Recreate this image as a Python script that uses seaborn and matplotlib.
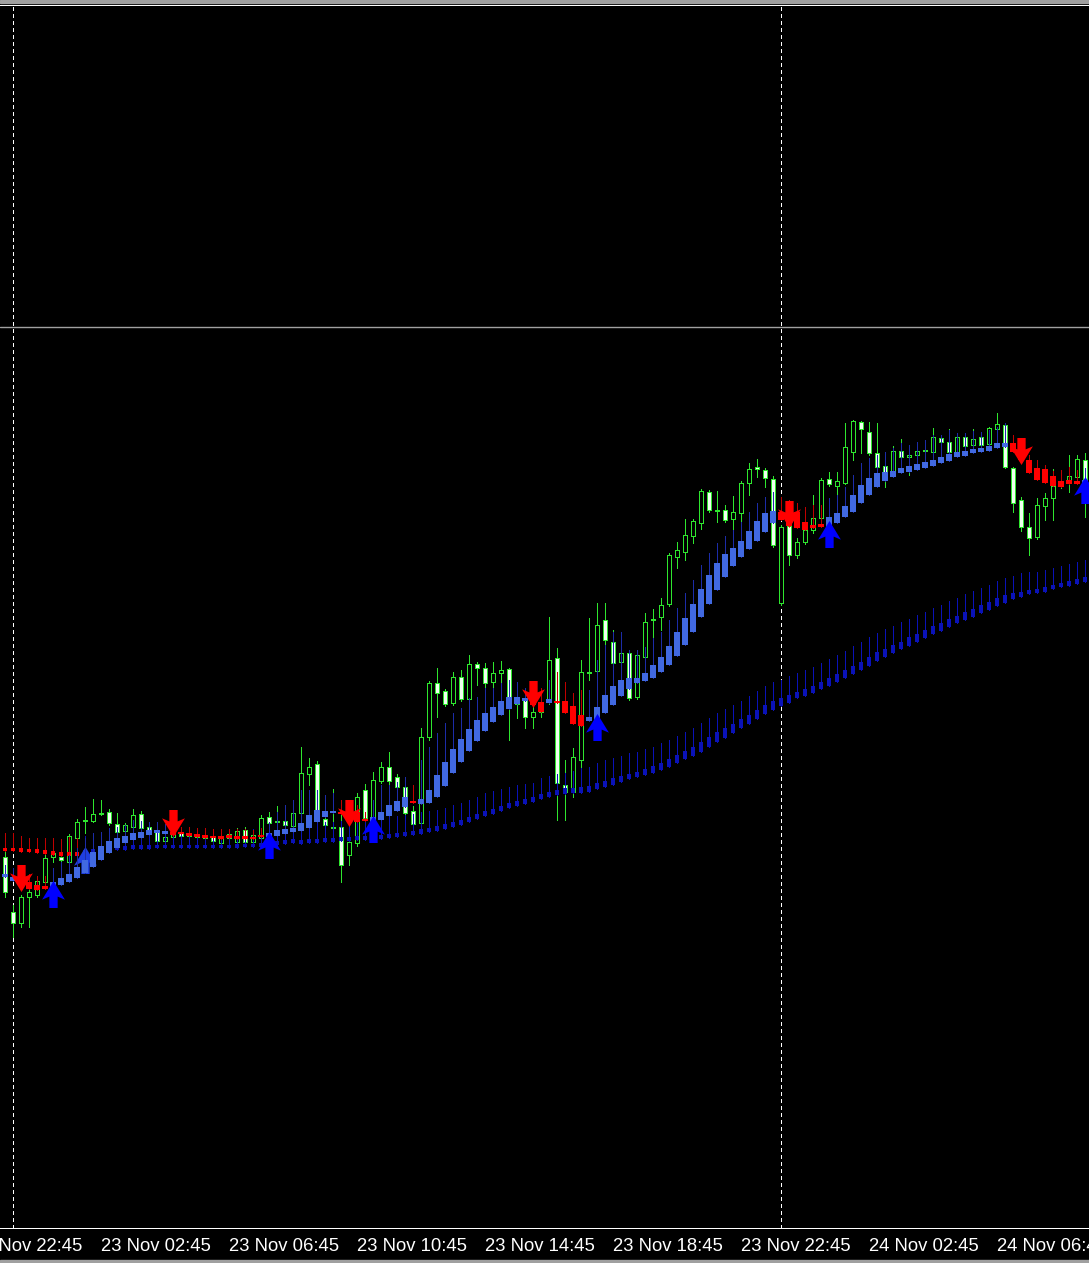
import numpy as np
import pandas as pd
import matplotlib
matplotlib.use("Agg")
import matplotlib.pyplot as plt
from matplotlib.path import Path
from matplotlib.markers import MarkerStyle
from matplotlib.patches import Rectangle
import seaborn as sns

# %%
# --- M15 candles (price in points) ---
first_bar = "2023-11-22 23:45"

open_ = [143, 88, 77, 103, 105, 118, 143, 143, 138, 162,
         179, 179, 187, 188, 176, 169, 173, 186, 173, 170,
         159, 163, 168, 167, 166, 165, 163, 157, 162, 158,
         170, 158, 162, 183, 178, 179, 174, 187, 226, 236,
         181, 172, 173, 145, 157, 210, 182, 219, 233, 223,
         213, 189, 177, 263, 317, 309, 297, 323, 301, 336,
         332, 318, 327, 331, 296, 301, 283, 288, 298, 342,
         215, 208, 240, 327, 329, 380, 358, 338, 347, 303,
         343, 380, 383, 396, 443, 448, 464, 477, 508, 489,
         490, 481, 487, 517, 533, 530, 521, 397, 474, 445,
         458, 470, 482, 521, 514, 517, 548, 578, 568, 547,
         534, 528, 549, 543, 545, 549, 548, 562, 558, 547,
         563, 555, 563, 556, 571, 575, 532, 500, 473, 463,
         494, 502, 515, 517, 523, 540]
high = [150, 95, 105, 113, 123, 145, 152, 148, 166, 181,
        193, 201, 200, 191, 187, 177, 191, 189, 178, 175,
        167, 170, 171, 170, 169, 168, 166, 165, 169, 172,
        173, 170, 185, 188, 194, 185, 190, 253, 242, 239,
        190, 211, 200, 165, 207, 216, 228, 238, 248, 226,
        218, 194, 272, 319, 332, 311, 328, 330, 345, 338,
        337, 338, 339, 332, 318, 310, 295, 312, 383, 352,
        240, 252, 340, 382, 397, 397, 370, 368, 350, 350,
        387, 391, 402, 447, 458, 481, 481, 511, 510, 509,
        495, 504, 519, 537, 541, 532, 524, 475, 490, 462,
        492, 505, 522, 528, 528, 577, 580, 579, 578, 577,
        547, 554, 561, 550, 558, 555, 572, 565, 571, 567,
        567, 571, 567, 573, 587, 577, 533, 503, 487, 502,
        507, 531, 530, 545, 545, 547]
low = [103, 63, 73, 73, 103, 115, 138, 138, 136, 160,
       167, 178, 185, 175, 166, 167, 171, 170, 165, 157,
       157, 161, 162, 162, 161, 160, 157, 155, 152, 156,
       156, 156, 160, 174, 173, 173, 172, 185, 215, 188,
       173, 170, 118, 135, 154, 180, 180, 217, 216, 205,
       180, 174, 174, 260, 283, 294, 295, 299, 299, 315,
       308, 312, 318, 260, 282, 272, 272, 283, 296, 180,
       180, 203, 230, 320, 327, 355, 334, 334, 300, 301,
       341, 363, 370, 394, 432, 440, 457, 471, 488, 478,
       478, 471, 479, 505, 523, 513, 453, 395, 435, 442,
       456, 467, 480, 514, 503, 516, 540, 547, 545, 527,
       513, 525, 540, 525, 538, 542, 545, 555, 545, 545,
       548, 547, 550, 550, 568, 532, 488, 469, 445, 461,
       480, 480, 512, 508, 521, 483]
close = [108, 77, 103, 108, 119, 142, 147, 140, 164, 178,
         180, 186, 186, 177, 168, 175, 185, 172, 168, 159,
         163, 167, 164, 164, 163, 162, 159, 162, 166, 169,
         158, 165, 182, 177, 179, 175, 187, 227, 233, 190,
         175, 173, 135, 158, 203, 182, 220, 233, 219, 213,
         187, 176, 263, 317, 307, 296, 323, 301, 336, 332,
         317, 327, 330, 300, 303, 283, 288, 297, 340, 217,
         208, 243, 328, 328, 375, 360, 337, 347, 302, 345,
         378, 381, 395, 445, 450, 465, 479, 509, 490, 490,
         480, 488, 517, 531, 531, 522, 455, 473, 445, 458,
         470, 482, 520, 516, 519, 553, 579, 571, 547, 533,
         528, 549, 543, 545, 549, 550, 563, 558, 548, 563,
         554, 561, 555, 572, 576, 533, 497, 473, 462, 495,
         502, 514, 517, 524, 541, 518]

# --- fast smoothed Heiken Ashi ---
fast_open = [123, 119, 120, 118, 115, 114, 113, 115, 118, 122,
             127, 133, 140, 147, 152, 157, 160, 162, 165, 167,
             166, 168, 168, 167, 166, 165, 164, 164, 165, 164,
             164, 163, 165, 163, 164, 166, 168, 169, 172, 178,
             183, 187, 188, 190, 188, 181, 178, 180, 184, 189,
             193, 198, 196, 197, 203, 214, 227, 238, 249, 259,
             269, 278, 285, 291, 296, 299, 300, 298, 297, 299,
             299, 294, 285, 279, 280, 287, 295, 304, 311, 317,
             319, 322, 328, 335, 344, 355, 368, 383, 396, 410,
             423, 434, 443, 451, 459, 468, 477, 488, 485, 488,
             478, 475, 476, 473, 477, 483, 488, 497, 505, 513,
             519, 523, 527, 528, 530, 532, 534, 537, 539, 543,
             544, 547, 548, 549, 552, 553, 557, 552, 540, 532,
             531, 524, 519, 520, 519, 515]
fast_close = [126, 123, 114, 111, 110, 111, 118, 122, 126, 133,
              140, 148, 154, 159, 162, 164, 167, 168, 170, 170,
              169, 165, 166, 164, 163, 162, 162, 161, 162, 161,
              161, 161, 163, 167, 170, 171, 172, 177, 185, 190,
              189, 189, 186, 182, 178, 179, 183, 188, 195, 199,
              203, 197, 201, 210, 225, 238, 251, 261, 271, 280,
              287, 293, 299, 303, 303, 302, 295, 288, 301, 297,
              287, 276, 274, 283, 293, 305, 314, 320, 322, 322,
              327, 335, 343, 354, 368, 382, 396, 411, 425, 437,
              446, 452, 459, 469, 479, 487, 489, 480, 474, 472,
              470, 472, 473, 483, 487, 494, 505, 515, 522, 527,
              528, 529, 532, 534, 536, 538, 540, 543, 546, 548,
              549, 551, 552, 554, 557, 557, 548, 540, 527, 520,
              517, 514, 513, 516, 516, 520]
fast_high = [135, 132, 128, 126, 124, 124, 132, 138, 145, 152,
             162, 167, 168, 172, 173, 175, 180, 179, 178, 178,
             176, 174, 173, 173, 172, 172, 171, 171, 171, 171,
             171, 170, 172, 178, 188, 195, 200, 210, 210, 210,
             205, 207, 200, 200, 195, 188, 200, 215, 215, 218,
             223, 215, 240, 253, 267, 277, 287, 292, 302, 303,
             312, 312, 317, 320, 318, 312, 310, 312, 320, 328,
             318, 307, 310, 310, 340, 355, 368, 368, 350, 350,
             353, 362, 368, 380, 392, 407, 420, 435, 447, 457,
             464, 470, 478, 488, 497, 503, 508, 503, 500, 497,
             493, 495, 495, 502, 505, 513, 525, 537, 542, 545,
             548, 552, 557, 555, 558, 560, 565, 565, 570, 567,
             567, 569, 568, 570, 573, 577, 565, 562, 545, 540,
             535, 529, 530, 533, 530, 532]

# --- slow smoothed Heiken Ashi ---
slow_open = [152, 152, 152, 151, 151, 150, 149, 148, 148, 148,
             146, 147, 148, 148, 150, 150, 151, 151, 151, 152,
             152, 152, 152, 152, 152, 152, 152, 152, 152, 152,
             153, 153, 153, 154, 155, 156, 157, 156, 157, 157,
             158, 158, 159, 159, 160, 160, 160, 161, 162, 163,
             164, 165, 166, 168, 169, 171, 173, 175, 178, 181,
             184, 186, 189, 192, 194, 196, 198, 201, 203, 205,
             206, 207, 207, 208, 211, 213, 215, 218, 221, 223,
             225, 227, 230, 233, 237, 241, 244, 248, 253, 258,
             262, 267, 272, 276, 281, 286, 290, 294, 297, 302,
             304, 307, 311, 314, 318, 322, 326, 330, 334, 339,
             343, 347, 351, 354, 358, 362, 366, 369, 373, 377,
             380, 383, 387, 390, 394, 397, 401, 403, 406, 407,
             408, 411, 413, 414, 416, 418]
slow_close = [149, 149, 148, 148, 147, 146, 145, 144, 144, 144,
              150, 151, 151, 152, 153, 154, 155, 155, 155, 155,
              155, 155, 155, 155, 155, 155, 155, 155, 155, 156,
              156, 156, 157, 157, 159, 160, 161, 160, 161, 161,
              162, 162, 163, 163, 164, 164, 164, 165, 166, 167,
              168, 169, 171, 172, 174, 176, 178, 180, 183, 186,
              189, 191, 194, 197, 199, 201, 203, 206, 208, 210,
              212, 212, 213, 214, 217, 219, 222, 224, 226, 228,
              231, 234, 237, 241, 245, 249, 253, 258, 263, 268,
              272, 276, 281, 285, 290, 295, 299, 302, 305, 308,
              311, 314, 318, 322, 326, 330, 334, 338, 343, 348,
              351, 355, 358, 363, 366, 370, 374, 377, 381, 384,
              388, 391, 395, 398, 402, 405, 407, 408, 410, 411,
              413, 415, 417, 419, 421, 423]
slow_high = [167, 167, 164, 162, 162, 162, 162, 161, 163, 162,
             164, 165, 166, 167, 167, 168, 170, 170, 170, 170,
             170, 170, 170, 170, 170, 170, 170, 170, 170, 170,
             171, 171, 172, 172, 174, 175, 176, 176, 177, 177,
             178, 178, 179, 179, 180, 180, 181, 182, 183, 184,
             185, 186, 188, 189, 190, 192, 195, 197, 200, 203,
             207, 209, 211, 213, 215, 216, 217, 222, 224, 226,
             227, 229, 232, 233, 237, 240, 242, 244, 247, 248,
             251, 253, 257, 260, 264, 268, 272, 277, 282, 287,
             291, 295, 299, 304, 309, 314, 318, 320, 324, 327,
             330, 333, 337, 341, 345, 349, 354, 358, 363, 367,
             371, 374, 378, 381, 385, 388, 392, 395, 399, 402,
             406, 409, 412, 415, 419, 422, 424, 427, 428, 428,
             430, 432, 434, 436, 438, 440]

# --- signals (bar index, arrow price) ---
sell_bar = [2, 21, 43, 66, 98, 127]
sell_price = [122, 177, 187, 306, 486, 549]
buy_bar = [6, 33, 46, 74, 103, 135]
buy_price = [106, 155, 171, 273, 466, 510]
slow_buy_bar = [10]
slow_buy_price = [140]

level = 673
tick_start = "2023-11-22 22:45"

# %%
# --- couleurs MT4 ---
GREEN = "#2EE62E"
BEAR_FILL = "#F0FFF0"
ROYAL = "#4169E1"
NAVY = "#1C2CA8"
SLOW_BLUE = "#0A12B8"
RED = "#FF0000"
DARK_RED = "#C00000"
PX = 0.72  # 1 px in points at dpi 100

sns.set_theme(style="dark", rc={
    "figure.facecolor": "black", "axes.facecolor": "black",
    "axes.edgecolor": "white", "xtick.color": "white",
    "axes.grid": False,
})
plt.rcParams["font.family"] = ["Liberation Sans", "DejaVu Sans"]

fig = plt.figure(figsize=(10.89, 12.63), dpi=100)
ax = fig.add_axes([0, 35 / 1263, 1, 1223 / 1263])

times = pd.date_range(first_bar, periods=len(open_), freq="15min")
x = np.arange(len(open_))

# séparateurs de jour + niveau horizontal
for k in np.where((times.hour == 0) & (times.minute == 0))[0]:
    ax.axvline(k, color="white", lw=PX, ls=(0, (3, 3)), zorder=1, antialiased=False)
ax.axhline(level, color="#A0A0A0", lw=1.0, zorder=1)

# --- bougies (traits nets comme MT4) ---
o, h, l, c = map(np.asarray, (open_, high, low, close))
bull = c >= o
ax.vlines(x, l, h, color=GREEN, lw=PX, zorder=2, antialiased=False)
ax.bar(x, np.maximum(np.abs(c - o), 0.6), bottom=np.minimum(o, c), width=0.6,
       color=np.where(bull, "black", BEAR_FILL), edgecolor=GREEN, linewidth=PX,
       zorder=2.1, antialiased=False)

# --- slow HA ---
so, sc, sh = map(np.asarray, (slow_open, slow_close, slow_high))
s_up = sc >= so
ax.vlines(x, np.minimum(so, sc), sh, colors=np.where(s_up, SLOW_BLUE, DARK_RED), lw=PX,
          zorder=2.5, antialiased=False)
ax.bar(x, np.maximum(np.abs(sc - so), 2), bottom=np.minimum(so, sc), width=0.5,
       color=np.where(s_up, SLOW_BLUE, RED), linewidth=0, zorder=2.6, antialiased=False)

# --- fast HA ---
fo, fc, fh = map(np.asarray, (fast_open, fast_close, fast_high))
f_up = fc >= fo
ax.vlines(x, np.minimum(fo, fc), fh, colors=np.where(f_up, NAVY, DARK_RED), lw=PX,
          zorder=3, antialiased=False)
ax.bar(x, np.maximum(np.abs(fc - fo), 2), bottom=np.minimum(fo, fc), width=0.7,
       color=np.where(f_up, ROYAL, RED), linewidth=0, zorder=3.1, antialiased=False)

# --- flèches ---
down_verts = [(-4, 13), (4, 13), (4, 2), (11, 5), (0, -13), (-11, 5), (-4, 2), (-4, 13)]
down_arrow = MarkerStyle(Path(down_verts, closed=True))
up_arrow = MarkerStyle(Path([(vx, -vy) for vx, vy in down_verts], closed=True))
size = (27 * PX) ** 2
sns.scatterplot(x=sell_bar, y=sell_price, marker=down_arrow, s=size, color=RED,
                linewidth=0, ax=ax, zorder=4, legend=False)
sns.scatterplot(x=buy_bar, y=buy_price, marker=up_arrow, s=size, color="#0000FF",
                linewidth=0, ax=ax, zorder=4, legend=False)
sns.scatterplot(x=slow_buy_bar, y=slow_buy_price, marker=up_arrow, s=size, color="#1F3FE0",
                linewidth=0, ax=ax, zorder=2.8, legend=False)

# --- axes ---
tick_times = pd.date_range(tick_start, periods=9, freq="4h")
tick_pos = (tick_times - times[0]) / pd.Timedelta("15min")
tick_text = [t.strftime("%d Nov %H:%M") for t in tick_times]
ax.set_xticks(tick_pos)
ax.set_xticklabels(tick_text, ha="left", color="white", fontsize=13.3)
ax.tick_params(axis="x", length=3, width=PX, color="white", pad=4, direction="out")
ax.set_xlim(-0.625, 135.5)   # après set_xticks (sinon la vue s'élargit)
ax.set_ylim(-228, 995)
# le premier libellé tombe hors de la vue : on l'écrit à la main, coupé par le bord
ax.annotate(tick_text[0], xy=(tick_pos[0], 0), xycoords=("data", "axes fraction"),
            xytext=(0, -7), textcoords="offset points", ha="left", va="top",
            color="white", fontsize=13.3, annotation_clip=False)
ax.set_yticks([])
ax.set_xlabel(""); ax.set_ylabel("")
for side in ("left", "right"):
    ax.spines[side].set_visible(False)
for side in ("top", "bottom"):
    ax.spines[side].set_color("white")
    ax.spines[side].set_linewidth(PX)

# bordures grises de la fenêtre
fig.patches.append(Rectangle((0, 1 - 3 / 1263), 1, 3 / 1263, transform=fig.transFigure,
                             color="#A0A0A0", zorder=0))
fig.patches.append(Rectangle((0, 0), 1, 3 / 1263, transform=fig.transFigure,
                             color="#A0A0A0", zorder=0))

fig.savefig("out.png", dpi=100, facecolor="black")
